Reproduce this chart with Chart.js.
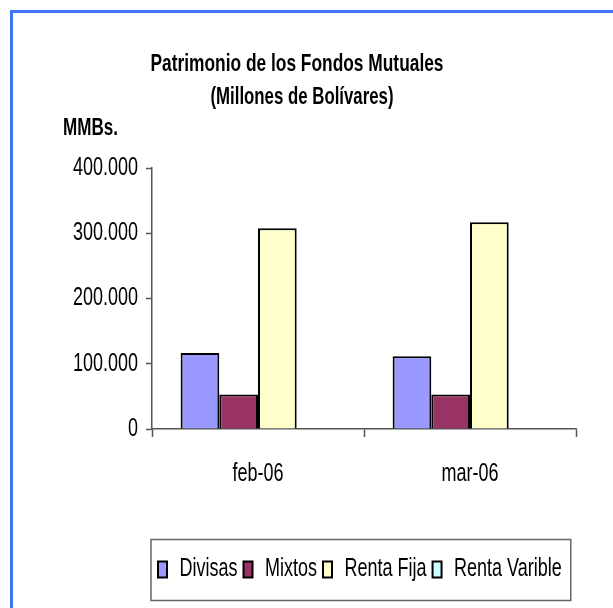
<!DOCTYPE html>
<html>
<head>
<meta charset="utf-8">
<script src="https://cdn.jsdelivr.net/npm/chart.js@4.4.1/dist/chart.umd.min.js"></script>
<style>
  html, body { margin: 0; padding: 0; background: #fff; }
  #wrap { position: relative; width: 613px; height: 608px; }
  #frame { position: absolute; left: 10px; top: 10px; right: 0; bottom: 0;
           border-top: 3px solid #4174f7; border-left: 3px solid #4174f7; pointer-events: none; }
</style>
</head>
<body>
<div id="wrap">
  <canvas id="myChart" width="613" height="608"></canvas>
  <div id="frame"></div>
</div>
<script>
  const categories = ['feb-06', 'mar-06'];
  const divisas = [116300, 111600];
  const mixtos = [53000, 53000];
  const rentaFija = [307500, 316700];
  const rentaVarible = [0, 0];
  const yMax = 400000;
  const yStep = 100000;

  const titleLines = ['Patrimonio de los Fondos Mutuales', '(Millones de Bolívares)'];
  const unitLabel = 'MMBs.';

  const font = "'Liberation Sans', Arial, sans-serif";

  // la fuente original es muy condensada: se estrecha todo el texto del canvas
  const squeeze = 0.72;
  const canvas = document.getElementById('myChart');
  const ctx = canvas.getContext('2d');
  const origFill = ctx.fillText.bind(ctx);
  const origMeasure = ctx.measureText.bind(ctx);
  ctx.fillText = function (text, x, y) {
    this.save();
    this.translate(x, y);
    this.scale(squeeze, 1);
    origFill(text, 0, 0);
    this.restore();
  };
  ctx.measureText = function (text) {
    const m = origMeasure(text);
    return {
      width: m.width * squeeze,
      actualBoundingBoxAscent: m.actualBoundingBoxAscent,
      actualBoundingBoxDescent: m.actualBoundingBoxDescent,
      actualBoundingBoxLeft: m.actualBoundingBoxLeft * squeeze,
      actualBoundingBoxRight: m.actualBoundingBoxRight * squeeze
    };
  };

  // ancho fijo para titulo y unidad
  function fitText(c, text, x, y, w) {
    const m = c.measureText(text).width;
    c.save();
    c.translate(x, y);
    c.scale(w / m, 1);
    c.fillText(text, 0, 0);
    c.restore();
  }

  const textPlugin = {
    id: 'textPlugin',
    afterDraw(chart) {
      const c = chart.ctx;
      c.save();
      c.fillStyle = '#000';
      c.font = 'bold 24px ' + font;
      c.textAlign = 'center';
      c.textBaseline = 'middle';
      fitText(c, titleLines[0], 297, 64, 293);
      fitText(c, titleLines[1], 302, 97, 183);
      c.textAlign = 'left';
      fitText(c, unitLabel, 63, 128, 55);
      c.restore();
    }
  };

  // marco de la leyenda
  const legendBox = {
    id: 'legendBox',
    afterDraw(chart) {
      const boxes = chart.legend.legendHitBoxes;
      if (!boxes || !boxes.length) return;
      const first = boxes[0], last = boxes[boxes.length - 1];
      const cy = first.top + first.height / 2;
      const c = chart.ctx;
      c.save();
      c.strokeStyle = '#666';
      c.lineWidth = 1.5;
      c.strokeRect(first.left - 7, cy - 30, last.left + last.width - first.left + 16, 61);
      c.restore();
    }
  };

  new Chart(ctx, {
    type: 'bar',
    data: {
      labels: categories,
      datasets: [
        { label: 'Divisas', data: divisas, backgroundColor: '#9999FF' },
        { label: 'Mixtos', data: mixtos, backgroundColor: '#993366' },
        { label: 'Renta Fija', data: rentaFija, backgroundColor: '#FFFFCC' },
        { label: 'Renta Varible', data: rentaVarible, backgroundColor: '#CCFFFF' }
      ]
    },
    options: {
      responsive: false,
      animation: false,
      events: [],
      datasets: {
        bar: {
          borderColor: '#000',
          borderWidth: 2,
          barPercentage: 1,
          categoryPercentage: 0.73
        }
      },
      layout: {
        padding: { top: 168, left: 20, right: 37, bottom: 16 }
      },
      scales: {
        x: {
          grid: { drawOnChartArea: false, tickLength: 8, color: '#555', tickWidth: 1.5 },
          border: { color: '#555', width: 1.5 },
          ticks: { color: '#000', padding: 22, font: { family: font, size: 25 } },
          afterFit(scale) { scale.height = 122; }
        },
        y: {
          min: 0,
          max: yMax,
          grid: { drawOnChartArea: false, tickLength: 6, color: '#555', tickWidth: 1.5 },
          border: { color: '#555', width: 1.5 },
          ticks: {
            stepSize: yStep,
            color: '#000',
            padding: 8,
            font: { family: font, size: 25 },
            callback: v => String(v).replace(/\B(?=(\d{3})+(?!\d))/g, '.')
          },
          afterFit(scale) { scale.width = 132; }
        }
      },
      plugins: {
        title: { display: false },
        tooltip: { enabled: false },
        legend: {
          position: 'bottom',
          fullSize: false,
          align: 'start',
          labels: {
            color: '#000',
            boxWidth: 9,
            boxHeight: 16,
            padding: 6,
            font: { family: font, size: 25 }
          }
        }
      }
    },
    plugins: [textPlugin, legendBox]
  });
</script>
</body>
</html>
